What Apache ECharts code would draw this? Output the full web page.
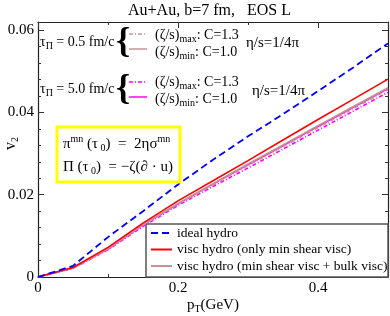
<!DOCTYPE html>
<html>
<head>
<meta charset="utf-8">
<script src="https://cdn.jsdelivr.net/npm/echarts@6/dist/echarts.min.js"></script>
<style>
html,body{margin:0;padding:0;background:#fff;}
#chart{width:390px;height:316px;}
</style>
</head>
<body>
<div id="chart"></div>
<script>
// ---- data ----
const pT = [0, 0.05, 0.1, 0.15, 0.2, 0.25, 0.3, 0.35, 0.4, 0.45, 0.5];
const idealHydro   = [0, 0.0027, 0.0097, 0.0160, 0.0225, 0.0285, 0.0342, 0.0396, 0.0452, 0.0509, 0.0568];
const viscShear    = [0, 0.0023, 0.0072, 0.0131, 0.0185, 0.0234, 0.0283, 0.0333, 0.0383, 0.0432, 0.0481];
const bulkMinTau05 = [0, 0.0022, 0.0069, 0.0127, 0.0179, 0.0227, 0.0275, 0.0321, 0.0368, 0.0414, 0.0460];
const bulkMaxTau05 = [0, 0.0022, 0.0068, 0.0126, 0.0177, 0.0224, 0.0271, 0.0317, 0.0363, 0.0409, 0.0455];
const bulkMaxTau5  = [0, 0.0021, 0.0066, 0.0123, 0.0174, 0.0220, 0.0265, 0.0311, 0.0357, 0.0403, 0.0449];
const bulkMinTau5  = [0, 0.0022, 0.0068, 0.0126, 0.0178, 0.0226, 0.0273, 0.0319, 0.0366, 0.0412, 0.0458];
const xTickLabels = ['0', '0.2', '0.4'];
const yTickLabels = ['0', '0.02', '0.04', '0.06'];
const legendNames = ['ideal hydro', 'visc hydro (only min shear visc)', 'visc hydro (min shear visc + bulk visc)'];

const FONT = '"Liberation Serif", "DejaVu Serif", serif';
const BROWN = '#c49494';
const MAGENTA = '#ff00ff';

function pairs(xs, ys) { return xs.map((x, i) => [x, ys[i]]); }

const chart = echarts.init(document.getElementById('chart'), null, {renderer: 'canvas'});

function xAx(pos, interval, len, showLine, showLabel) {
  return {
    type: 'value', position: pos, min: 0, max: 0.5, interval: interval,
    axisLine: {show: showLine, onZero: false, lineStyle: {color: '#222', width: 1.2}},
    axisTick: {show: true, inside: true, length: len, lineStyle: {color: '#333', width: 1}},
    axisLabel: {show: showLabel, showMaxLabel: false, margin: 4, color: '#000', fontFamily: FONT, fontSize: 15,
      formatter: v => { const s = xTickLabels.find(t => Math.abs(parseFloat(t) - v) < 1e-9); return s === undefined ? '' : s; }},
    splitLine: {show: false}
  };
}
function yAx(pos, interval, len, showLine, showLabel) {
  return {
    type: 'value', position: pos, min: 0, max: 0.062, interval: interval,
    axisLine: {show: showLine, onZero: false, lineStyle: {color: '#222', width: 1.2}},
    axisTick: {show: true, inside: true, length: len, lineStyle: {color: '#333', width: 1}},
    axisLabel: {show: showLabel, showMaxLabel: false, margin: 4, color: '#000', fontFamily: FONT, fontSize: 15,
      formatter: v => { const s = yTickLabels.find(t => Math.abs(parseFloat(t) - v) < 1e-9); return s === undefined ? '' : s; }},
    splitLine: {show: false}
  };
}

const subPad = [9, 0, 0, 0];
const supPad = [0, 0, 9, 0];
function richBase(size) {
  return {
    n: {fontFamily: FONT, fontSize: size, color: '#000'},
    s: {fontFamily: FONT, fontSize: 10, padding: subPad, color: '#000'},
    u: {fontFamily: FONT, fontSize: 10, padding: supPad, color: '#000'}
  };
}
function rtext(x, y, text, size, extra) {
  return Object.assign({
    type: 'text', x: x, y: y, z: 10,
    style: {text: text, fill: '#000', fontFamily: FONT, fontSize: size, verticalAlign: 'middle', align: 'left', rich: richBase(size)}
  }, extra || {});
}
function keyLine(x1, x2, y, color, dash) {
  return {type: 'line', z: 10, shape: {x1: x1, y1: y, x2: x2, y2: y},
    style: {stroke: color, lineWidth: 1.5, lineDash: dash || null}};
}

const option = {
  backgroundColor: '#fff',
  animation: false,
  grid: {left: 38, top: 22, right: 2, bottom: 39, containLabel: false},
  xAxis: [
    xAx('bottom', 0.2, 6, true, true),
    xAx('bottom', 0.1, 3, false, false),
    xAx('top', 0.2, 6, true, false),
    xAx('top', 0.1, 3, false, false)
  ],
  yAxis: [
    yAx('left', 0.02, 6, true, true),
    yAx('left', 0.004, 3, false, false),
    yAx('right', 0.02, 6, true, false),
    yAx('right', 0.004, 3, false, false)
  ],
  legend: {
    data: legendNames,
    orient: 'vertical', left: 150, top: 226, padding: 0,
    itemWidth: 21, itemHeight: 14, itemGap: 2.5,
    itemStyle: {opacity: 0},
    textStyle: {fontFamily: FONT, fontSize: 13.5, color: '#000'},
    selectedMode: false
  },
  series: [
    {name: 'tau5 max', type: 'line', data: pairs(pT, bulkMaxTau5), symbol: 'none', z: 2,
      lineStyle: {color: MAGENTA, width: 1.6, type: [4, 2, 1, 2]}},
    {name: 'tau5 min', type: 'line', data: pairs(pT, bulkMinTau5), symbol: 'none', z: 2,
      lineStyle: {color: MAGENTA, width: 1.5}},
    {name: 'tau05 max', type: 'line', data: pairs(pT, bulkMaxTau05), symbol: 'none', z: 3,
      lineStyle: {color: BROWN, width: 1.5, type: [4, 2, 1, 2]}},
    {name: legendNames[2], type: 'line', data: pairs(pT, bulkMinTau05), symbol: 'none', z: 3,
      itemStyle: {color: BROWN}, lineStyle: {color: BROWN, width: 1.6}},
    {name: legendNames[1], type: 'line', data: pairs(pT, viscShear), symbol: 'none', z: 4,
      itemStyle: {color: '#ff0000'}, lineStyle: {color: '#ff0000', width: 1.6}},
    {name: legendNames[0], type: 'line', data: pairs(pT, idealHydro), symbol: 'none', z: 4,
      itemStyle: {color: '#0000ff'}, lineStyle: {color: '#0000ff', width: 1.8, type: [7, 4]}}
  ],
  graphic: [
    // legend box
    {type: 'rect', z: 1, shape: {x: 146, y: 224, width: 242, height: 53},
      style: {fill: '#fff', stroke: '#555', lineWidth: 1.5}},
    // title
    rtext(128, 11, 'Au+Au, b=7 fm,   EOS L', 16),
    // y axis name
    rtext(11, 150, '{n|v}{s|2}', 16, {rotation: Math.PI / 2}),
    // x axis name
    rtext(187, 305, '{n|p}{s|T}{n|(GeV)}', 15),
    // block tau = 0.5
    rtext(40, 42, '{n|τ}{s|Π}{n| = 0.5 fm/c}', 14),
    {type: 'text', z: 10, x: 123, y: 43, style: {text: '{', fill: '#000', fontFamily: FONT, fontSize: 36, fontWeight: 'bold', align: 'center', verticalAlign: 'middle'}},
    keyLine(129, 147, 34, BROWN, [4, 2, 1, 2]),
    keyLine(129, 147, 49, BROWN),
    rtext(155, 35, '{n|(ζ/s)}{s|max}{n|: C=1.3}', 14),
    rtext(155, 52, '{n|(ζ/s)}{s|min}{n|: C=1.0}', 14),
    rtext(246, 43, 'η/s=1/4π', 15),
    // block tau = 5.0
    rtext(40, 89, '{n|τ}{s|Π}{n| = 5.0 fm/c}', 14),
    {type: 'text', z: 10, x: 123, y: 90, style: {text: '{', fill: '#000', fontFamily: FONT, fontSize: 36, fontWeight: 'bold', align: 'center', verticalAlign: 'middle'}},
    keyLine(129, 147, 82, MAGENTA, [4, 2, 1, 2]),
    keyLine(129, 147, 97, MAGENTA),
    rtext(155, 82, '{n|(ζ/s)}{s|max}{n|: C=1.3}', 14),
    rtext(155, 99, '{n|(ζ/s)}{s|min}{n|: C=1.0}', 14),
    rtext(252, 91, 'η/s=1/4π', 15),
    // yellow box
    {type: 'rect', z: 9, shape: {x: 57, y: 127, width: 123, height: 55},
      style: {fill: '#fff', stroke: '#ffff00', lineWidth: 3}},
    rtext(63, 144, '{n|π}{u|mn}{n| (τ}{s| 0}{n|)  =  2ησ}{u|mn}', 15),
    rtext(63, 167, '{n|Π (τ}{s| 0}{n|)  = −ζ(∂ · u)}', 15)
  ]
};
chart.setOption(option);
</script>
</body>
</html>
